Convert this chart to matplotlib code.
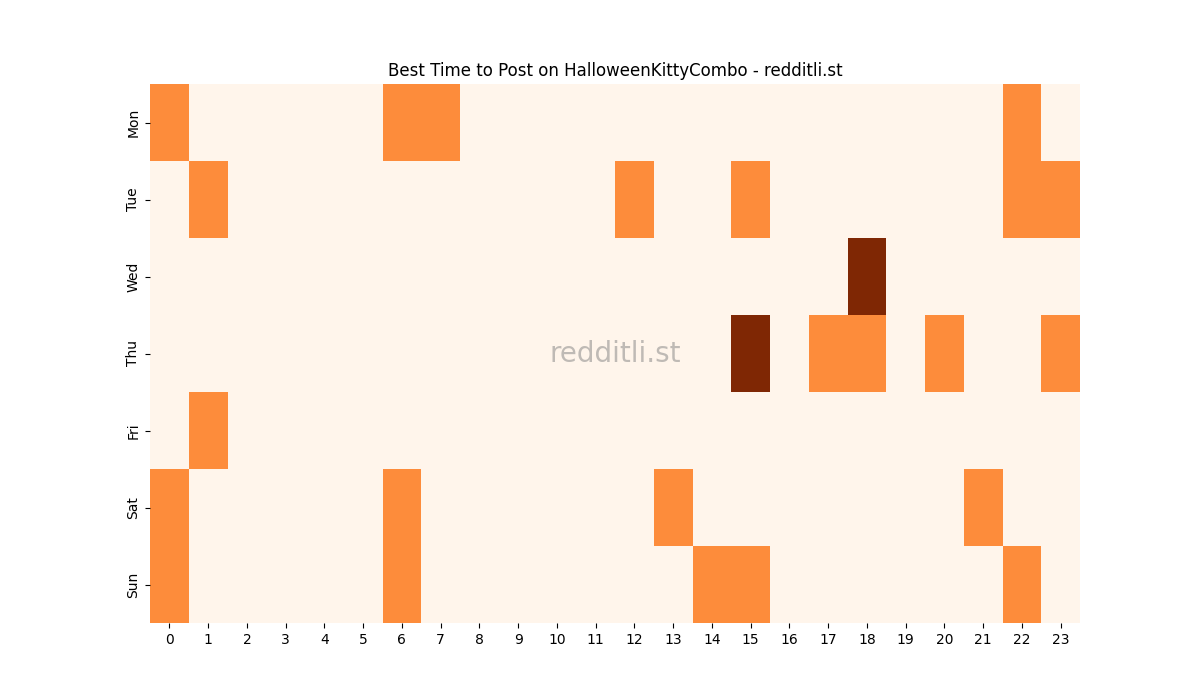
import numpy as np
import pandas as pd
import seaborn as sns
import matplotlib
matplotlib.use("Agg")
import matplotlib.pyplot as plt

days = ["Mon", "Tue", "Wed", "Thu", "Fri", "Sat", "Sun"]
hours = list(range(24))

# hour -> score for each day (unlisted hours are 0)
mon = {0: 1, 6: 1, 7: 1, 22: 1}
tue = {1: 1, 12: 1, 15: 1, 22: 1, 23: 1}
wed = {18: 2}
thu = {15: 2, 17: 1, 18: 1, 20: 1, 23: 1}
fri = {1: 1}
sat = {0: 1, 6: 1, 13: 1, 21: 1}
sun = {0: 1, 6: 1, 14: 1, 15: 1, 22: 1}

rows = [mon, tue, wed, thu, fri, sat, sun]
grid = np.array([[r.get(h, 0) for h in hours] for r in rows])
df = pd.DataFrame(grid, index=days, columns=hours)

fig, ax = plt.subplots(figsize=(12, 7), dpi=100)
sns.heatmap(df, cmap="Oranges", cbar=False, ax=ax)
ax.set_title("Best Time to Post on HalloweenKittyCombo - redditli.st")
ax.text(0.5, 0.5, "redditli.st", transform=ax.transAxes, ha="center",
        va="center", fontsize=20, color="gray", alpha=0.5)

fig.savefig("out.png")
